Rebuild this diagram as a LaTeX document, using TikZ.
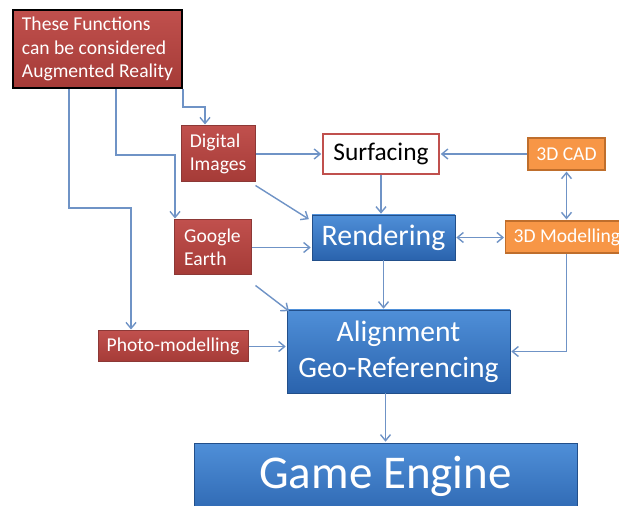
\documentclass[tikz,border=0pt]{standalone}
\usepackage{fontspec}
\setmainfont{Carlito}
\usetikzlibrary{arrows.meta,calc}
\definecolor{boxred}{HTML}{C0504D}
\definecolor{boxreddark}{HTML}{A53B37}
\definecolor{redline}{HTML}{8C3836}
\definecolor{boxorange}{HTML}{F79646}
\definecolor{orangeline}{HTML}{BF6E2C}
\definecolor{bluetop}{HTML}{4F8FD8}
\definecolor{bluebot}{HTML}{2A63AD}
\definecolor{linkblue}{HTML}{6F93C6}

\begin{document}
\begin{tikzpicture}[x=0.5pt,y=-0.5pt,
    redbox/.style={draw=redline,line width=0.5pt,top color=boxred,bottom color=boxreddark,
        text=white,font=\fontsize{9.8}{11.7}\selectfont,inner xsep=4pt,align=left},
    orangebox/.style={draw=orangeline,line width=0.6pt,fill=boxorange,text=white,
        font=\fontsize{9.8}{11.7}\selectfont,inner xsep=4pt},
    bluebox/.style={draw=bluebot!80!black,line width=0.3pt,top color=bluetop,bottom color=bluebot,
        text=white,align=center},
    link/.style={draw=linkblue,line width=0.7pt,-{Straight Barb[length=3pt,width=5pt]},shorten >=0.5pt},
    dlink/.style={link,{Straight Barb[length=3pt,width=5pt]}-{Straight Barb[length=3pt,width=5pt]},shorten <=0.5pt}]
    \useasboundingbox (0,0) rectangle (619,506);
    \clip (0,0) rectangle (619,506);
    \fill[white] (0,0) rectangle (619,506);

    % boxes
    \node[redbox,draw=black,line width=1pt,minimum width=84.5pt,minimum height=39pt,
        font=\fontsize{9.8}{11.8}\selectfont] (ar) at (97.5,49)
        {These Functions\\can be considered\\Augmented Reality};
    \node[redbox,minimum width=37pt,minimum height=28pt] (di) at (218,154) {Digital\\Images};
    \node[redbox,minimum width=38.5pt,minimum height=27.5pt] (ge) at (212.5,247.5) {Google\\Earth};
    \node[redbox,minimum width=75pt,minimum height=15.5pt,align=center] (ph) at (173,346.5) {Photo-modelling};
    \node[draw=boxred,line width=0.8pt,fill=white,minimum width=58pt,minimum height=20pt,
        font=\fontsize{12.7}{15}\selectfont] (su) at (381,154) {Surfacing};
    \node[orangebox,minimum width=38.5pt,minimum height=16pt] (cad) at (566.5,154) {3D CAD};
    \node[orangebox,minimum width=61pt,minimum height=16pt,anchor=west,inner xsep=4pt] (mo) at (505,237) {3D Modelling};
    \node[bluebox,minimum width=71.5pt,minimum height=22.5pt,font=\fontsize{14.9}{17}\selectfont] (re) at (383.5,237.5) {Rendering};
    \node[bluebox,minimum width=111.5pt,minimum height=41.5pt,font=\fontsize{14.8}{18}\selectfont] (al) at (398.5,351.5)
        {Alignment\\Geo-Referencing};
    \node[bluebox,minimum width=191.5pt,minimum height=40pt,font=\fontsize{23.5}{26}\selectfont] (game) at (385.5,483) {};
    \node[text=white,font=\fontsize{23.5}{26}\selectfont] (gametxt) at (385.5,476) {Game Engine};

    % bends
    \coordinate (k1) at (69,208);
    \coordinate (k1b) at (131,208);
    \coordinate (k2) at (116,155);
    \coordinate (k2b) at (175,155);
    \coordinate (k3) at (205,107);

    % connectors
    \draw[link] (ar.south -| k1) -- (k1) -- (k1b) -- (ph.north -| k1b);
    \draw[link] (ar.south -| k2) -- (k2) -- (k2b) -- (ge.north -| k2b);
    \draw[link] (ar.south east) |- (k3) -- (di.north -| k3);
    \draw[link] (di.east) -- (su.west);
    \draw[link] ([yshift=-1.5pt]di.south east) -- ([xshift=-1pt,yshift=-2.5pt]re.north west);
    \draw[link] (ge.east) -- (ge.east -| re.west);
    \draw[link] ([xshift=2pt,yshift=-5pt]ge.south east) -- ([xshift=1.5pt,yshift=-1pt]al.north west);
    \draw[link] (su.south) -- (su.south |- re.north);
    \draw[link] (cad.west) -- (su.east);
    \draw[dlink] (cad.south) -- (mo.north -| cad.south);
    \draw[dlink] (re.east) -- (re.east -| mo.west);
    \draw[link] (re.south) -- (re.south |- al.north);
    \draw[link] (mo.south -| cad.south) |- (al.east);
    \draw[link] (ph.east) -- (ph.east -| al.west);
    \draw[link] (al.south -| 385.5,0) -- (game.north);
\end{tikzpicture}
\end{document}
